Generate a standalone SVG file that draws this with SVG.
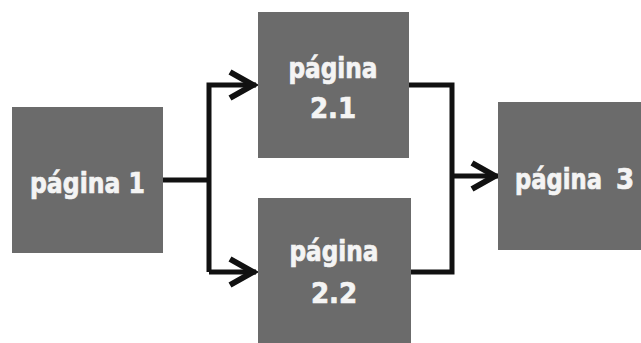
<svg xmlns="http://www.w3.org/2000/svg" width="641" height="343" viewBox="0 0 641 343">
  <style>
    .box { fill: #6b6b6b; }
    .label { fill: #f4f4f4; stroke: #f4f4f4; stroke-width: 0.7; font-family: "DejaVu Sans Condensed", "DejaVu Sans", sans-serif; font-stretch: condensed; font-weight: bold; font-size: 29px; text-anchor: middle; }
    .wire { fill: none; stroke: #111; stroke-width: 5; stroke-linejoin: miter; }
  </style>
  <defs>
    <marker id="chevron" viewBox="-30 -16 34 32" markerWidth="34" markerHeight="32" refX="0" refY="0" orient="auto" markerUnits="userSpaceOnUse">
      <path d="M-26,-13 L-3,0 L-26,13" fill="none" stroke="#111" stroke-width="6" stroke-linejoin="miter"/>
    </marker>
  </defs>
  <rect width="641" height="343" fill="#ffffff"/>

  <g id="connectors">
    <path class="wire" d="M163,180 H209"/>
    <path class="wire" d="M209,272 V85 H256" marker-end="url(#chevron)"/>
    <path class="wire" d="M209,272 H256" marker-end="url(#chevron)"/>
    <path class="wire" d="M408,85 H452 V272 H410"/>
    <path class="wire" d="M452,176 H498" marker-end="url(#chevron)"/>
  </g>

  <g id="pagina-1">
    <rect class="box" x="12" y="107" width="151" height="146"/>
    <text class="label" x="87.5" y="193" textLength="115" lengthAdjust="spacingAndGlyphs">página 1</text>
  </g>

  <g id="pagina-2-1">
    <rect class="box" x="258" y="12" width="151" height="146"/>
    <text class="label" x="333" y="78" textLength="89" lengthAdjust="spacingAndGlyphs">página</text>
    <text class="label" x="333" y="118">2.1</text>
  </g>

  <g id="pagina-2-2">
    <rect class="box" x="258" y="198" width="153" height="145"/>
    <text class="label" x="334" y="261" textLength="89" lengthAdjust="spacingAndGlyphs">página</text>
    <text class="label" x="334" y="303">2.2</text>
  </g>

  <g id="pagina-3">
    <rect class="box" x="498" y="102" width="143" height="148"/>
    <text class="label" x="558.5" y="189" textLength="87" lengthAdjust="spacingAndGlyphs">página</text>
    <text class="label" x="625" y="189">3</text>
  </g>
</svg>
